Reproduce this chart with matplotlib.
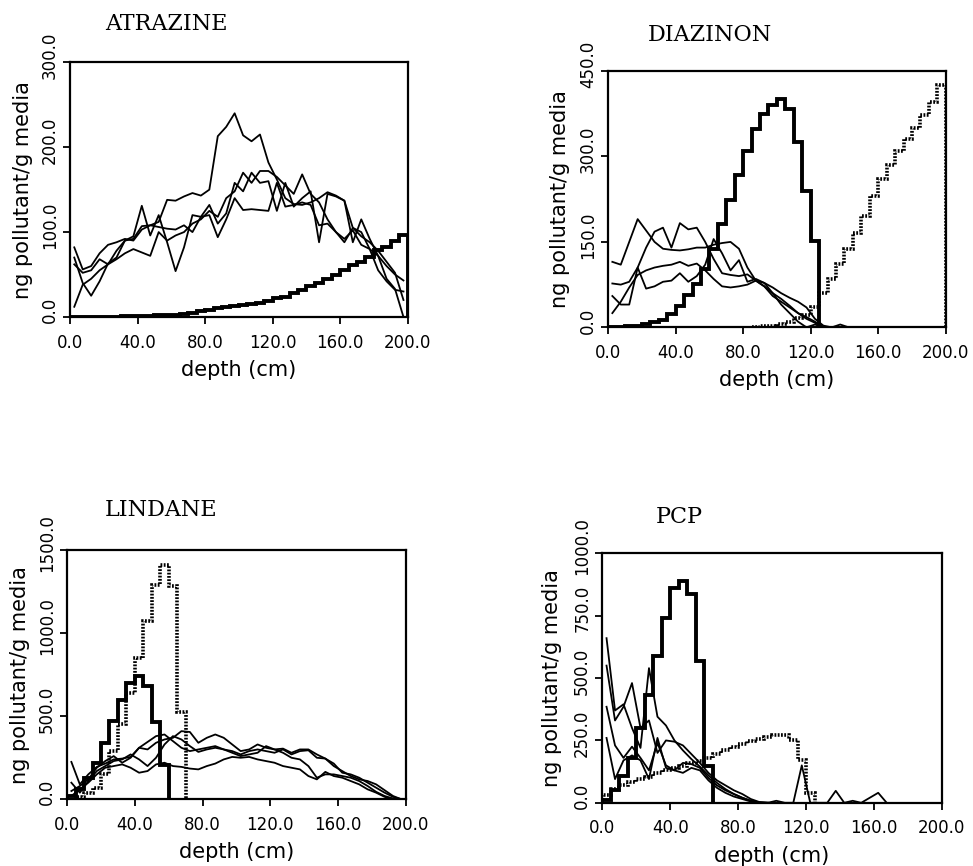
import numpy as np
import matplotlib
matplotlib.use("Agg")
import matplotlib.pyplot as plt
import matplotlib.transforms as mtransforms

# sampling depths (cm) for the replicate profiles, and 5 cm bin edges for the model curves
depth = np.arange(2.5, 200, 5)
edges = np.arange(0, 205, 5)

# ---------------- ATRAZINE ----------------
atr_r1 = [82, 56, 60, 75, 85, 88, 92, 90, 103, 108, 112, 138, 137, 142, 146, 143, 150, 213, 224, 240,
          214, 207, 215, 182, 162, 140, 133, 132, 135, 140, 147, 143, 137, 105, 100, 80, 55, 42, 32, 30]
atr_r2 = [12, 38, 45, 55, 62, 68, 75, 80, 76, 72, 100, 90, 96, 100, 110, 115, 125, 118, 140, 148,
          170, 158, 172, 172, 165, 155, 145, 168, 145, 135, 115, 100, 92, 102, 85, 80, 72, 60, 50, 43]
atr_r3 = [70, 40, 25, 42, 63, 70, 90, 95, 131, 96, 120, 88, 54, 82, 120, 118, 132, 110, 122, 158,
          148, 170, 158, 160, 125, 158, 130, 140, 148, 88, 145, 142, 137, 88, 115, 92, 72, 45, 33, 0]
atr_r4 = [62, 52, 55, 68, 62, 78, 90, 92, 107, 108, 106, 104, 103, 108, 100, 118, 120, 94, 115, 140,
          126, 127, 126, 125, 158, 130, 132, 135, 132, 108, 110, 100, 88, 105, 95, 88, 78, 65, 52, 20]
atr_model = [0, 0, 0.1, 0.2, 0.3, 0.4, 0.6, 0.8, 1.1, 1.4, 1.8, 2.2, 2.8, 3.5, 5, 6.5, 8, 10, 11.5, 13,
             14.5, 15.5, 17, 18.5, 22, 24, 28, 32, 36, 40, 45, 49, 55, 61, 65, 71, 79, 83, 89, 97]

# ---------------- DIAZINON ----------------
dia_r1 = [115, 110, 150, 190, 170, 150, 138, 136, 135, 137, 140, 140, 145, 148, 150, 138, 105, 82, 78,
          70, 60, 52, 45, 35, 15, 3, 0, 0, 0]
dia_r2 = [77, 75, 80, 105, 140, 168, 175, 140, 183, 172, 175, 150, 120, 95, 92, 90, 93, 82, 72,
          60, 50, 38, 25, 15, 8, 0, 0, 0, 0]
dia_r3 = [55, 40, 40, 105, 68, 72, 80, 82, 95, 80, 90, 110, 155, 130, 100, 118, 80, 85, 78,
          60, 40, 25, 10, 0, 5, 0, 0, 0, 0]
dia_r4 = [25, 45, 70, 92, 100, 105, 108, 110, 115, 108, 112, 100, 85, 72, 70, 72, 75, 82, 72,
          55, 45, 35, 25, 18, 10, 0, 0, 5, 0]
dia_model = [0, 0.5, 1.5, 3, 5, 9, 13, 23, 38, 56, 76, 103, 138, 182, 223, 267, 310, 349, 375, 390,
             400, 384, 325, 240, 151]
dia_obs_start = 85
dia_obs = [1, 2, 3, 6, 10, 16, 22, 35, 60, 85, 111, 138, 165, 195, 230, 260, 285, 310, 330, 350,
           372, 395, 425]

# ---------------- LINDANE ----------------
lin_r1 = [225, 90, 150, 195, 215, 240, 245, 255, 310, 345, 380, 390, 350, 310, 290, 300, 310, 320, 300, 290,
          270, 290, 300, 290, 280, 300, 270, 290, 295, 250, 245, 215, 160, 150, 130, 100, 70, 40, 15, 0]
lin_r2 = [50, 80, 120, 190, 230, 260, 220, 250, 310, 300, 340, 360, 370, 410, 405, 340, 370, 390, 370, 330,
          290, 300, 330, 310, 300, 305, 280, 300, 300, 270, 245, 200, 170, 140, 120, 110, 90, 55, 20, 0]
lin_r3 = [20, 60, 100, 150, 190, 200, 210, 190, 160, 170, 210, 220, 200, 195, 185, 180, 200, 215, 240, 255,
          250, 255, 240, 230, 220, 200, 190, 180, 140, 120, 165, 140, 130, 110, 90, 60, 40, 15, 0, 0]
lin_r4 = [100, 40, 110, 170, 200, 230, 240, 270, 240, 200, 250, 330, 380, 360, 320, 285, 300, 310, 300, 280,
          260, 270, 280, 320, 300, 280, 250, 240, 200, 130, 150, 150, 140, 130, 110, 80, 45, 20, 5, 0]
lin_model = [20, 60, 130, 220, 340, 470, 600, 700, 740, 680, 465, 205]
lin_obs_start = 5
lin_obs = [15, 40, 70, 150, 290, 450, 640, 850, 1070, 1290, 1410, 1280, 525]

# ---------------- PCP ----------------
pcp_r1 = [660, 370, 395, 300, 220, 540, 345, 310, 250, 210, 175, 145, 110, 80, 55, 35, 20, 8, 2, 0]
pcp_r2 = [550, 330, 385, 480, 300, 330, 200, 250, 245, 230, 195, 160, 120, 90, 70, 50, 35, 15, 3, 0]
pcp_r3 = [385, 230, 180, 225, 180, 130, 240, 150, 130, 160, 155, 140, 100, 70, 50, 35, 20, 8, 0, 0]
pcp_r4 = [260, 95, 170, 190, 170, 95, 260, 140, 130, 120, 140, 130, 90, 60, 40, 25, 15, 5, 0, 0,
          8, 0, 0, 150, 0, 0, 0, 48, 0, 8, 0, 20, 40, 0]
pcp_model = [13, 53, 107, 180, 300, 434, 588, 742, 862, 889, 838, 568, 147]
pcp_obs_start = 0
pcp_obs = [30, 55, 70, 85, 95, 105, 120, 130, 140, 148, 158, 168, 180, 195, 210, 222, 235, 247, 257, 265,
           272, 270, 250, 170, 40]

panels = [
    dict(title="ATRAZINE", yticks=[0, 100, 200, 300], reps=[atr_r1, atr_r2, atr_r3, atr_r4],
         model=atr_model, obs=None, obs_start=None),
    dict(title="DIAZINON", yticks=[0, 150, 300, 450], reps=[dia_r1, dia_r2, dia_r3, dia_r4],
         model=dia_model, obs=dia_obs, obs_start=dia_obs_start),
    dict(title="LINDANE", yticks=[0, 500, 1000, 1500], reps=[lin_r1, lin_r2, lin_r3, lin_r4],
         model=lin_model, obs=lin_obs, obs_start=lin_obs_start),
    dict(title="PCP", yticks=[0, 250, 500, 750, 1000], reps=[pcp_r1, pcp_r2, pcp_r3, pcp_r4],
         model=pcp_model, obs=pcp_obs, obs_start=pcp_obs_start),
]

# layout: axes rect, title x (axes fraction), title y, ylabel x
layout = [
    ([0.072, 0.634, 0.347, 0.294], 0.104, 1.15, -0.11),
    ([0.625, 0.622, 0.347, 0.296], 0.118, 1.14, -0.112),
    ([0.069, 0.077, 0.348, 0.288], 0.112, 1.16, -0.109),
    ([0.619, 0.073, 0.349, 0.288], 0.156, 1.145, -0.118),
]

fig = plt.figure(figsize=(9.73, 8.66), dpi=100)
offset = mtransforms.ScaledTranslation(0, 5 / 72, fig.dpi_scale_trans)

for p, (rect, tx, ty, ylx) in zip(panels, layout):
    ax = fig.add_axes(rect)
    for r in p["reps"]:
        ax.plot(depth[:len(r)], r, color="black", lw=1.3)
    m = p["model"]
    ax.stairs(m, edges[:len(m) + 1], baseline=0, color="black", lw=2.8)
    if p["obs"] is not None:
        o = p["obs"]
        e = np.arange(p["obs_start"], p["obs_start"] + 5 * len(o) + 1, 5)
        ax.stairs(o, e, baseline=0, color="black", lw=2.6, linestyle=(0, (0.5, 0.4)))

    yt = p["yticks"]
    ax.set_xlim(0, 200)
    ax.set_ylim(yt[0], yt[-1])
    ax.set_xticks([0, 40, 80, 120, 160, 200])
    ax.set_yticks(yt)
    ax.set_xticklabels([f"{v:.1f}" for v in ax.get_xticks()])
    ax.set_yticklabels([f"{v:.1f}" for v in yt])
    ax.tick_params(direction="out", length=5, width=1.3, labelsize=12)
    ax.tick_params(axis="x", pad=7)
    ax.tick_params(axis="y", pad=3)
    for lab in ax.get_yticklabels():
        lab.set_rotation(90)
        lab.set_va("center")
        lab.set_transform(lab.get_transform() + offset)
    for s in ax.spines.values():
        s.set_linewidth(1.6)

    ax.set_xlabel("depth (cm)", fontsize=15, labelpad=6)
    ax.set_ylabel("ng pollutant/g media", fontsize=15)
    ax.yaxis.set_label_coords(ylx, 0.5)
    ax.text(tx, ty, p["title"], transform=ax.transAxes, family="DejaVu Serif",
            fontsize=16, ha="left", va="center")

fig.savefig("out.png", dpi=100)
